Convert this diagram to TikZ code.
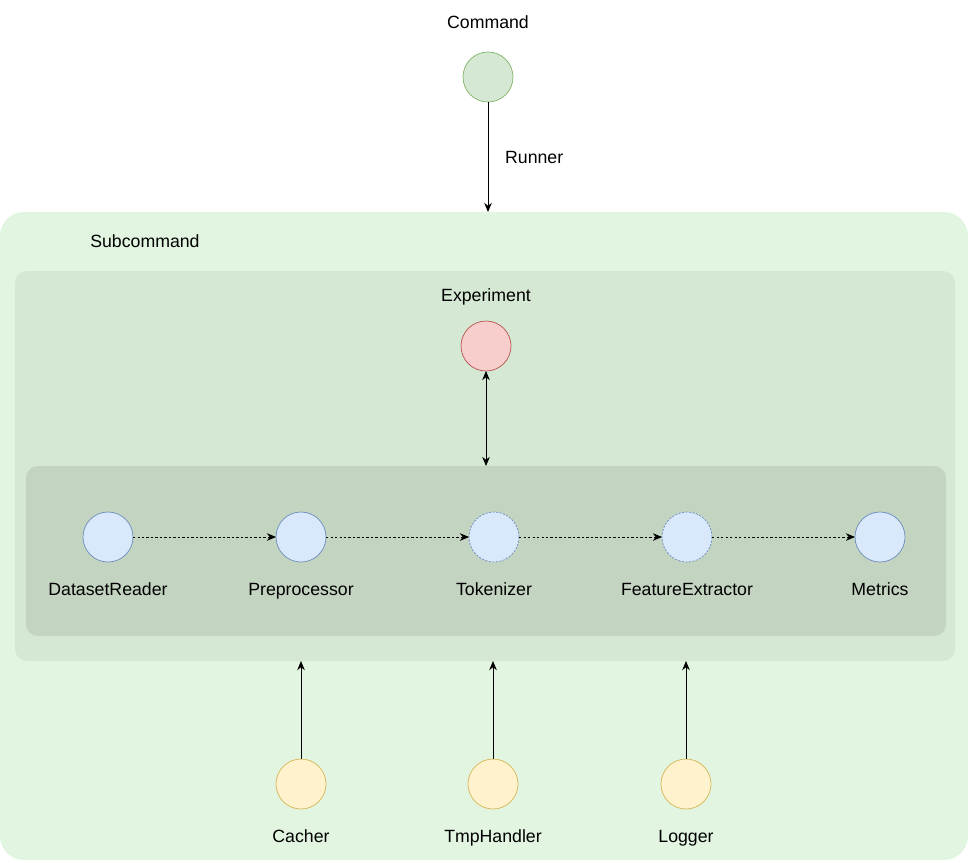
\documentclass[tikz,border=0pt]{standalone}
\usepackage{fontspec}
\setmainfont{Liberation Sans}
\usepackage{xcolor}
\usetikzlibrary{arrows.meta,positioning}

\definecolor{subfill}{HTML}{E2F5E0}
\definecolor{expfill}{HTML}{D5E8D4}
\definecolor{pipefill}{HTML}{C3D4C0}
\definecolor{cmdline}{HTML}{82B366}
\definecolor{redfill}{HTML}{F8CECC}
\definecolor{redline}{HTML}{B85450}
\definecolor{bluefill}{HTML}{DAE8FC}
\definecolor{blueline}{HTML}{6C8EBF}
\definecolor{yelfill}{HTML}{FFF2CC}
\definecolor{yelline}{HTML}{D6B656}

\begin{document}
\begin{tikzpicture}[
  font=\fontsize{12.6}{15}\selectfont,
  area/.style={draw=none, inner sep=0pt, outer sep=0pt, anchor=north west},
  comp/.style={circle, draw, minimum size=1.25cm, inner sep=0pt, outer sep=0pt, line width=0.5pt},
  cmdc/.style={comp, fill=expfill, draw=cmdline},
  expc/.style={comp, fill=redfill, draw=redline},
  stage/.style={comp, fill=bluefill, draw=blueline},
  stagedash/.style={stage, dashed, dash pattern=on 1.5pt off 1pt},
  helper/.style={comp, fill=yelfill, draw=yelline},
  lbl/.style={inner sep=0pt, text height=0.32cm, text depth=0pt},
  arr/.style={-{Stealth[length=2.3mm,width=1.9mm]}, line width=0.6pt},
  biarr/.style={{Stealth[length=2.3mm,width=1.9mm]}-{Stealth[length=2.3mm,width=1.9mm]}, line width=0.6pt},
  flow/.style={arr, dash pattern=on 1.6pt off 1.6pt}
]
\useasboundingbox (0,0) rectangle (24.25,-21.55);

% containers
\node[area, fill=subfill, rounded corners=0.6cm, minimum width=24.2cm, minimum height=16.2cm] (sub) at (0,-5.3) {};
\node[area, fill=expfill, rounded corners=0.3cm, minimum width=23.5cm, minimum height=9.75cm] (exps) at (0.375,-6.775) {};
\node[area, fill=pipefill, rounded corners=0.3cm, minimum width=23cm, minimum height=4.25cm] (pipe) at (0.65,-11.65) {};
\node[lbl, anchor=west] (subl) at (2.25,-6.025) {Subcommand};

% command
\node[cmdc] (cmd) at (12.2,-1.925) {};
\node[lbl, above=0.575cm of cmd] (cmdl) {Command};
\draw[arr] (cmd) -- (cmd |- sub.north) node[midway, right=0.3cm] (run) {Runner};

% experiment
\node[expc] (exp) at (12.15,-8.65) {};
\node[lbl, above=0.475cm of exp] (expl) {Experiment};
\draw[biarr] (exp) -- (exp |- pipe.north);

% pipeline
\node[stage] (rd) at (2.7,-13.425) {};
\node[stage, right=3.575cm of rd] (pre) {};
\node[stagedash, right=3.575cm of pre] (tok) {};
\node[stagedash, right=3.575cm of tok] (fe) {};
\node[stage, right=3.575cm of fe] (met) {};
\node[lbl, below=0.5cm of rd] (rdl) {DatasetReader};
\node[lbl, below=0.5cm of pre] (prel) {Preprocessor};
\node[lbl, below=0.5cm of tok] (tokl) {Tokenizer};
\node[lbl, below=0.5cm of fe] (fel) {FeatureExtractor};
\node[lbl, below=0.5cm of met] (metl) {Metrics};
\draw[flow] (rd) -- (pre);
\draw[flow] (pre) -- (tok);
\draw[flow] (tok) -- (fe);
\draw[flow] (fe) -- (met);

% helpers
\node[helper] (cach) at (7.525,-19.6) {};
\node[helper] (tmp) at (12.325,-19.6) {};
\node[helper] (log) at (17.15,-19.6) {};
\node[lbl, below=0.5cm of cach] (cachl) {Cacher};
\node[lbl, below=0.5cm of tmp] (tmpl) {TmpHandler};
\node[lbl, below=0.5cm of log] (logl) {Logger};
\draw[arr] (cach) -- (cach |- exps.south);
\draw[arr] (tmp) -- (tmp |- exps.south);
\draw[arr] (log) -- (log |- exps.south);
\end{tikzpicture}
\end{document}
